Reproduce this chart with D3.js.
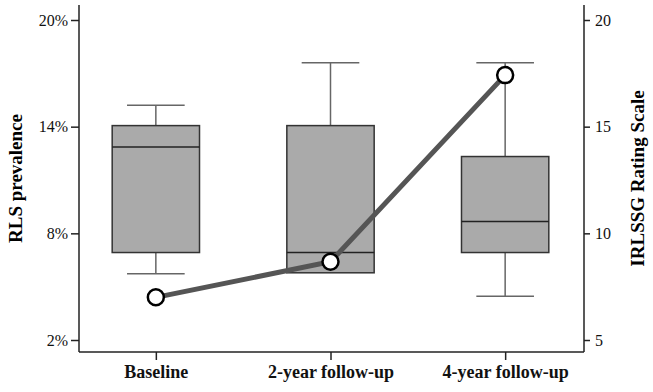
<!DOCTYPE html>
<html>
<head>
<meta charset="utf-8">
<script src="https://cdn.jsdelivr.net/npm/d3@7"></script>
<style>
  body { margin: 0; background: #fff; }
  text { font-family: "Liberation Serif", "Times New Roman", serif; }
</style>
</head>
<body>
<script>
// data
const categories = ["Baseline", "2-year follow-up", "4-year follow-up"];
// IRLSSG rating scale boxes (right axis)
const scoreMin    = [8.1, 8.15, 7.05];
const scoreQ1     = [9.1, 8.15, 9.1];
const scoreMedian = [14.05, 9.1, 10.55];
const scoreQ3     = [15.05, 15.05, 13.6];
const scoreMax    = [16.0, 18.0, 18.0];
// RLS prevalence line (left axis, %)
const prevalence  = [4.4, 6.4, 16.9];
const leftTicks  = [2, 8, 14, 20];
const rightTicks = [5, 10, 15, 20];

const W = 653, H = 392;
const plotLeft = 79, plotRight = 584, plotTop = 5, plotBottom = 352;

const svg = d3.select("body")
  .append("svg")
    .attr("width", W)
    .attr("height", H);

const x = d3.scalePoint()
  .domain(categories)
  .range([plotLeft, plotRight - 2])
  .padding(0.44);

const yLeft = d3.scaleLinear().domain([2, 20]).range([340, 20]);
const yRight = d3.scaleLinear().domain([5, 20]).range([340, 20]);

const boxes = categories.map((c, i) => ({
  cat: c, min: scoreMin[i], q1: scoreQ1[i], med: scoreMedian[i], q3: scoreQ3[i], max: scoreMax[i]
}));

const boxW = x.step() * 0.5;
const capW = x.step() * 0.33;

const g = svg.append("g");

// whiskers
g.selectAll(".whisk")
  .data(boxes)
  .enter().append("line")
    .attr("x1", d => x(d.cat)).attr("x2", d => x(d.cat))
    .attr("y1", d => yRight(d.max)).attr("y2", d => yRight(d.min))
    .attr("stroke", "#666").attr("stroke-width", 1.5);

g.selectAll(".capTop")
  .data(boxes)
  .enter().append("line")
    .attr("x1", d => x(d.cat) - capW / 2).attr("x2", d => x(d.cat) + capW / 2)
    .attr("y1", d => yRight(d.max)).attr("y2", d => yRight(d.max))
    .attr("stroke", "#666").attr("stroke-width", 1.5);

g.selectAll(".capBot")
  .data(boxes.filter(d => d.min < d.q1))
  .enter().append("line")
    .attr("x1", d => x(d.cat) - capW / 2).attr("x2", d => x(d.cat) + capW / 2)
    .attr("y1", d => yRight(d.min)).attr("y2", d => yRight(d.min))
    .attr("stroke", "#666").attr("stroke-width", 1.5);

// boxes
g.selectAll(".box")
  .data(boxes)
  .enter().append("rect")
    .attr("x", d => x(d.cat) - boxW / 2)
    .attr("y", d => yRight(d.q3))
    .attr("width", boxW)
    .attr("height", d => yRight(d.q1) - yRight(d.q3))
    .attr("fill", "#aaaaaa")
    .attr("stroke", "#333")
    .attr("stroke-width", 1.5);

g.selectAll(".median")
  .data(boxes)
  .enter().append("line")
    .attr("x1", d => x(d.cat) - boxW / 2).attr("x2", d => x(d.cat) + boxW / 2)
    .attr("y1", d => yRight(d.med)).attr("y2", d => yRight(d.med))
    .attr("stroke", "#222").attr("stroke-width", 1.5);

// prevalence line
const line = d3.line()
  .x((d, i) => x(categories[i]))
  .y(d => yLeft(d));

g.append("path")
  .datum(prevalence)
  .attr("d", line)
  .attr("fill", "none")
  .attr("stroke", "#555")
  .attr("stroke-width", 5);

g.selectAll(".pt")
  .data(prevalence)
  .enter().append("circle")
    .attr("cx", (d, i) => x(categories[i]))
    .attr("cy", d => yLeft(d))
    .attr("r", 8)
    .attr("fill", "#fff")
    .attr("stroke", "#000")
    .attr("stroke-width", 2.5);

// axes
const axL = svg.append("g")
  .attr("transform", `translate(${plotLeft},0)`)
  .call(d3.axisLeft(yLeft).tickValues(leftTicks).tickFormat(d => d + "%").tickSize(8).tickPadding(3));
const axR = svg.append("g")
  .attr("transform", `translate(${plotRight},0)`)
  .call(d3.axisRight(yRight).tickValues(rightTicks).tickSize(6).tickPadding(5));
const axB = svg.append("g")
  .attr("transform", `translate(0,${plotBottom})`)
  .call(d3.axisBottom(x).tickSize(8).tickPadding(5));

[axL, axR, axB].forEach(a => {
  a.select(".domain").remove();
  a.selectAll("line").attr("stroke", "#222").attr("stroke-width", 1.5);
  a.selectAll("text").attr("fill", "#111").style("font-size", "16px");
});
axB.selectAll("text").style("font-size", "18px").style("font-weight", "bold");

// axis lines
svg.append("line").attr("x1", plotLeft).attr("x2", plotLeft).attr("y1", plotTop).attr("y2", plotBottom)
  .attr("stroke", "#222").attr("stroke-width", 1.5);
svg.append("line").attr("x1", plotRight).attr("x2", plotRight).attr("y1", plotTop).attr("y2", plotBottom)
  .attr("stroke", "#222").attr("stroke-width", 1.5);
svg.append("line").attr("x1", plotLeft).attr("x2", plotRight).attr("y1", plotBottom).attr("y2", plotBottom)
  .attr("stroke", "#222").attr("stroke-width", 1.5);

// axis titles
svg.append("text")
  .attr("transform", `translate(22,${(plotTop + plotBottom) / 2}) rotate(-90)`)
  .attr("text-anchor", "middle")
  .style("font-size", "19px").style("font-weight", "bold")
  .text("RLS prevalence");
svg.append("text")
  .attr("transform", `translate(644,${(plotTop + plotBottom) / 2}) rotate(-90)`)
  .attr("text-anchor", "middle")
  .style("font-size", "19px").style("font-weight", "bold")
  .text("IRLSSG Rating Scale");
</script>
</body>
</html>
